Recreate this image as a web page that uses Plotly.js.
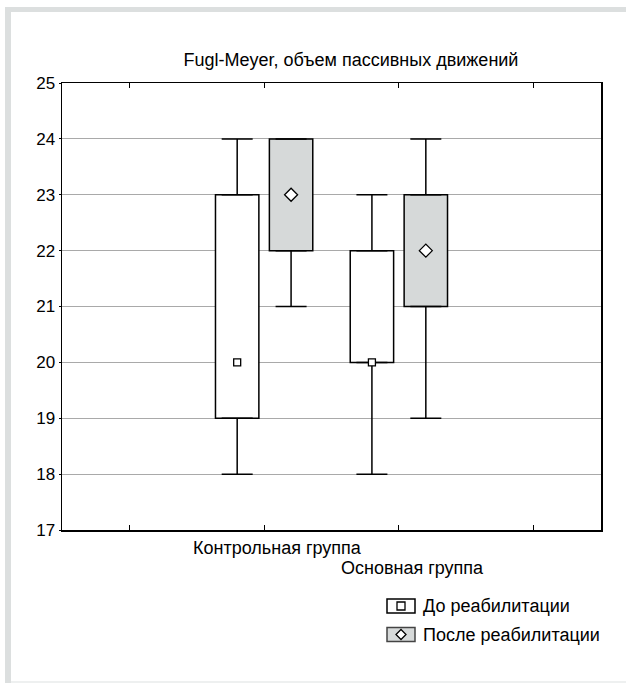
<!DOCTYPE html>
<html>
<head>
<meta charset="utf-8">
<script src="https://cdn.plot.ly/plotly-3.0.1.min.js"></script>
<style>
  html, body { margin: 0; padding: 0; background: #ffffff; }
  #chart { width: 626px; height: 683px; }
</style>
</head>
<body>
<div id="chart"></div>
<script>
// Groups and their box-plot statistics (min, 25%, median, 75%, max)
const categories = ["Контрольная группа", "Основная группа"];
const seriesNames = ["До реабилитации", "После реабилитации"];

const beforeMin    = [18, 18];
const beforeQ1     = [19, 20];
const beforeMedian = [20, 20];
const beforeQ3     = [23, 22];
const beforeMax    = [24, 23];

const afterMin    = [21, 19];
const afterQ1     = [22, 21];
const afterMedian = [23, 22];
const afterQ3     = [24, 23];
const afterMax    = [24, 24];

const yTicks = [17, 18, 19, 20, 21, 22, 23, 24, 25];

// Layout geometry
const W = 626, H = 683;
const M = { l: 62, r: 25, t: 83, b: 153 };
const plotW = W - M.l - M.r, plotH = H - M.t - M.b;
const px = x => (x - M.l) / plotW;          // pixel -> paper x
const py = y => (H - M.b - y) / plotH;      // pixel -> paper y

const font = "Liberation Sans, Arial, Helvetica, sans-serif";
const textSize = 18;
const groupPos = categories.map((_, i) => i + 2);   // axis positions of the groups
const shift = 0.2, boxWidth = 0.322;
const afterFill = "#d6d9d9";

function boxTraces(offset, mn, q1, med, q3, mx, fill, symbol, size, name) {
  const x = groupPos.map(p => p + offset);
  const bars = {
    type: "bar", name: name, x: x, base: q1,
    y: q3.map((v, i) => v - q1[i]),
    width: boxWidth,
    marker: { color: fill, line: { color: "#000000", width: 1.5 } },
    showlegend: false, hoverinfo: "skip"
  };
  // whiskers: upward from the 75% edge, downward from the 25% edge
  const wx = [], wy = [], up = [], down = [];
  x.forEach((xv, i) => {
    wx.push(xv, xv); wy.push(q3[i], q1[i]);
    up.push(mx[i] - q3[i], 0);
    down.push(0, q1[i] - mn[i]);
  });
  const whiskers = {
    type: "scatter", mode: "markers", x: wx, y: wy,
    marker: { size: 2, opacity: 0 },
    error_y: { type: "data", symmetric: false, array: up, arrayminus: down,
               width: 15.5, thickness: 1.5, color: "#000000" },
    showlegend: false, hoverinfo: "skip"
  };
  const medians = {
    type: "scatter", mode: "markers", x: x, y: med, name: name,
    marker: { symbol: symbol, size: size, color: "#ffffff",
              line: { color: "#000000", width: 1.3 } },
    showlegend: false
  };
  return [bars, whiskers, medians];
}

const data = [].concat(
  boxTraces(-shift, beforeMin, beforeQ1, beforeMedian, beforeQ3, beforeMax,
            "#ffffff", "square", 7, seriesNames[0]),
  boxTraces(shift, afterMin, afterQ1, afterMedian, afterQ3, afterMax,
            afterFill, "diamond", 10, seriesNames[1])
);

// Frame around the figure
const frameGray = "#dcdfdf";
const shapes = [
  { type: "rect", xref: "paper", yref: "paper", x0: px(5), x1: px(11), y0: py(683), y1: py(7),
    fillcolor: frameGray, line: { width: 0 } },
  { type: "rect", xref: "paper", yref: "paper", x0: px(5), x1: px(626), y0: py(12), y1: py(7),
    fillcolor: frameGray, line: { width: 0 } },
  { type: "rect", xref: "paper", yref: "paper", x0: px(11), x1: px(626), y0: py(683), y1: py(681),
    fillcolor: "#eef0f0", line: { width: 0 } }
];

// Legend keys
function legendKey(cy, fill, lineColor, marker) {
  const x0 = 387, x1 = 415, h = 14, cx = (x0 + x1) / 2;
  shapes.push({ type: "rect", xref: "paper", yref: "paper",
    x0: px(x0), x1: px(x1), y0: py(cy + h / 2), y1: py(cy - h / 2),
    fillcolor: fill, line: { color: lineColor, width: 1.5 } });
  let path;
  if (marker === "square") {
    const s = 4;
    path = `M${px(cx - s)},${py(cy - s)} L${px(cx + s)},${py(cy - s)} L${px(cx + s)},${py(cy + s)} L${px(cx - s)},${py(cy + s)} Z`;
  } else {
    const s = 5;
    path = `M${px(cx)},${py(cy - s)} L${px(cx + s)},${py(cy)} L${px(cx)},${py(cy + s)} L${px(cx - s)},${py(cy)} Z`;
  }
  shapes.push({ type: "path", xref: "paper", yref: "paper", path: path,
    fillcolor: "#ffffff", line: { color: "#000000", width: 1.3 } });
}
legendKey(606, "#ffffff", "#000000", "square");
legendKey(634.5, afterFill, "#444444", "diamond");

const annotations = [
  { xref: "x", yref: "paper", x: groupPos[0], y: 0, xshift: 13, yshift: -18,
    text: categories[0], showarrow: false, xanchor: "center", yanchor: "middle",
    font: { family: font, size: textSize, color: "#000000" } },
  { xref: "x", yref: "paper", x: groupPos[1], y: 0, xshift: 13.5, yshift: -38,
    text: categories[1], showarrow: false, xanchor: "center", yanchor: "middle",
    font: { family: font, size: textSize, color: "#000000" } },
  { xref: "paper", yref: "paper", x: px(421), y: py(606), text: seriesNames[0],
    showarrow: false, xanchor: "left", yanchor: "middle",
    font: { family: font, size: textSize, color: "#000000" } },
  { xref: "paper", yref: "paper", x: px(421), y: py(634.5), text: seriesNames[1],
    showarrow: false, xanchor: "left", yanchor: "middle",
    font: { family: font, size: textSize, color: "#000000" } }
];

const layout = {
  width: W, height: H,
  margin: M,
  paper_bgcolor: "#ffffff", plot_bgcolor: "#ffffff",
  font: { family: font, size: textSize, color: "#000000" },
  title: { text: "Fugl-Meyer, объем пассивных движений",
           xref: "container", yref: "container", x: 351 / W, y: 1 - 60 / H,
           xanchor: "center", yanchor: "middle",
           font: { family: font, size: textSize, color: "#000000" } },
  barmode: "overlay",
  showlegend: false,
  xaxis: {
    range: [0.5, 4.5], tickvals: [1, 2, 3, 4], showticklabels: false,
    ticks: "inside", ticklen: 5, tickwidth: 1, tickcolor: "#000000",
    showline: true, linecolor: "#000000", linewidth: 1.5, mirror: "ticks",
    showgrid: false, zeroline: false, fixedrange: true
  },
  yaxis: {
    range: [17, 25], tickvals: yTicks,
    ticks: "outside", ticklen: 2, tickcolor: "#000000",
    tickfont: { family: font, size: 17, color: "#000000" },
    showline: true, linecolor: "#000000", linewidth: 1.5, mirror: true,
    showgrid: true, gridcolor: "#a9a9a9", gridwidth: 1,
    zeroline: false, fixedrange: true
  },
  shapes: shapes,
  annotations: annotations
};

Plotly.newPlot("chart", data, layout, { displayModeBar: false, staticPlot: true });
</script>
</body>
</html>
